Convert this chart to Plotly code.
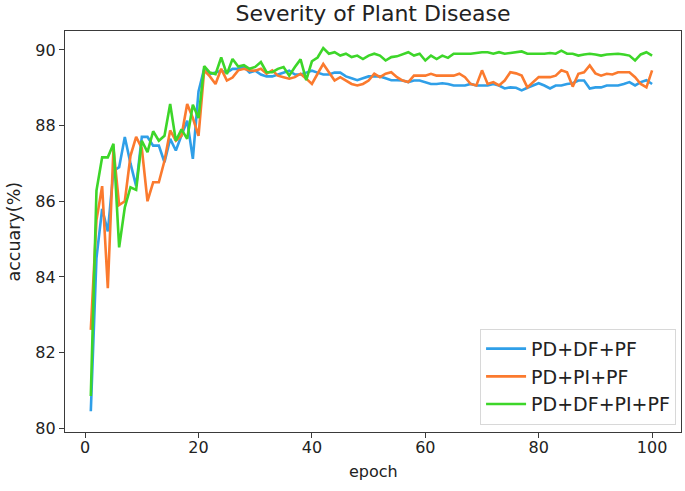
import plotly.graph_objects as go

epochs = list(range(1, 101))

pd_df_pf = [
    80.45, 84.5, 85.8, 85.2, 86.8, 86.9, 87.7, 87.0, 86.4, 87.7,
    87.7, 87.47, 87.47, 87.03, 87.65, 87.34, 87.74, 88.13, 87.12, 88.9,
    89.5, 89.36, 89.4, 89.45, 89.4, 89.5, 89.5, 89.55, 89.4, 89.45,
    89.35, 89.3, 89.3, 89.35, 89.4, 89.45, 89.35, 89.35, 89.4, 89.45,
    89.4, 89.35, 89.35, 89.4, 89.4, 89.3, 89.25, 89.2, 89.25, 89.3,
    89.3, 89.3, 89.25, 89.2, 89.2, 89.19, 89.15, 89.19, 89.19, 89.15,
    89.1, 89.1, 89.12, 89.1, 89.06, 89.06, 89.06, 89.1, 89.06, 89.06,
    89.06, 89.1, 89.06, 88.98, 89.01, 89.0, 88.93, 89.0, 89.06, 89.12,
    89.06, 88.98, 89.06, 89.06, 89.1, 89.12, 89.19, 89.19, 88.98, 89.01,
    89.01, 89.06, 89.06, 89.06, 89.1, 89.15, 89.06, 89.15, 89.2, 89.1,
]

pd_pi_pf = [
    82.6, 85.5, 86.4, 83.7, 87.4, 85.9, 86.0, 87.2, 87.7, 87.4,
    86.0, 86.5, 86.5, 87.07, 87.87, 87.6, 87.73, 88.57, 88.2, 87.73,
    89.46, 89.3, 89.1, 89.5, 89.19, 89.27, 89.46, 89.5, 89.46, 89.45,
    89.5, 89.37, 89.46, 89.32, 89.28, 89.24, 89.28, 89.37, 89.24, 89.1,
    89.37, 89.63, 89.41, 89.19, 89.28, 89.19, 89.1, 89.06, 89.1, 89.19,
    89.37, 89.28, 89.37, 89.41, 89.28, 89.19, 89.15, 89.32, 89.32, 89.32,
    89.37, 89.32, 89.32, 89.32, 89.32, 89.37, 89.28, 89.1, 89.06, 89.46,
    89.1, 89.15, 89.06, 89.19, 89.41, 89.38, 89.32, 89.01, 89.15, 89.28,
    89.28, 89.28, 89.32, 89.46, 89.41, 89.03, 89.37, 89.41, 89.59, 89.38,
    89.32, 89.37, 89.35, 89.41, 89.41, 89.41, 89.28, 89.1, 89.01, 89.46,
]

pd_df_pi_pf = [
    80.85, 86.28, 87.16, 87.16, 87.52, 84.78, 85.84, 86.37, 86.3, 87.6,
    87.3, 87.85, 87.6, 87.73, 88.57, 87.6, 87.9, 87.65, 88.55, 88.2,
    89.57, 89.4, 89.36, 89.8, 89.36, 89.76, 89.56, 89.6, 89.5, 89.55,
    89.68, 89.41, 89.41, 89.5, 89.55, 89.32, 89.55, 89.75, 89.2, 89.7,
    89.8, 90.05, 89.9, 89.94, 89.85, 89.9, 89.81, 89.85, 89.76, 89.85,
    89.9, 89.85, 89.72, 89.81, 89.83, 89.88, 89.94, 89.85, 89.9, 89.72,
    89.85, 89.76, 89.85, 89.79, 89.9, 89.9, 89.9, 89.9, 89.92, 89.94,
    89.94, 89.9, 89.94, 89.9, 89.92, 89.94, 89.96, 89.9, 89.9, 89.88,
    89.9, 89.92, 89.9, 89.98, 89.9, 89.9, 89.85, 89.88, 89.9, 89.88,
    89.85, 89.88, 89.9, 89.9, 89.88, 89.85, 89.72, 89.88, 89.94, 89.85,
]

series_names = ["PD+DF+PF", "PD+PI+PF", "PD+DF+PI+PF"]
series_colors = ["#2f9fe8", "#fb7a2e", "#3dd629"]
x_ticks = [0, 20, 40, 60, 80, 100]
y_ticks = [80, 82, 84, 86, 88, 90]

FONT = "DejaVu Sans"

fig = go.Figure()
for name, vals, col in zip(series_names, [pd_df_pf, pd_pi_pf, pd_df_pi_pf], series_colors):
    fig.add_trace(go.Scatter(x=epochs, y=vals, mode="lines", name=name,
                             line=dict(color=col, width=2.6)))

axis_common = dict(showline=True, linecolor="#3a3a3a", linewidth=1.2, mirror=True,
                   ticks="outside", ticklen=5, tickwidth=1.2, tickcolor="#3a3a3a",
                   showgrid=False, zeroline=False,
                   tickfont=dict(family=FONT, size=16, color="#222222"))

fig.update_layout(
    width=685, height=491,
    margin=dict(l=65, r=4, t=31, b=59),
    paper_bgcolor="white", plot_bgcolor="white",
    title=dict(text="Severity of Plant Disease", x=0.5445, xanchor="center",
               y=1 - 13 / 491, yanchor="middle", yref="container",
               font=dict(family=FONT, size=22, color="#222222")),
    xaxis=dict(range=[-3.55, 105.1], tickvals=x_ticks, ticklabelstandoff=-4,
               **axis_common),
    yaxis=dict(range=[79.9, 90.5], tickvals=y_ticks, **axis_common),
    legend=dict(x=0.992, y=0.018, xanchor="right", yanchor="bottom",
                bgcolor="white", bordercolor="#d8d8d8", borderwidth=1,
                font=dict(family=FONT, size=19, color="#222222"),
                tracegroupgap=0, itemwidth=40),
    showlegend=True,
    annotations=[
        dict(text="epoch", xref="paper", yref="paper", x=0.5, y=-(471 - 432) / 401,
             xanchor="center", yanchor="middle", showarrow=False,
             font=dict(family=FONT, size=16, color="#222222")),
        dict(text="accuary(%)", xref="paper", yref="paper", x=(13 - 65) / 616, y=0.5,
             xanchor="center", yanchor="middle", textangle=-90, showarrow=False,
             font=dict(family=FONT, size=17.5, color="#222222")),
    ],
)

fig.write_html("out.html", config={"displayModeBar": False},
               post_script="document.body.style.margin='0';document.body.style.padding='0';")
